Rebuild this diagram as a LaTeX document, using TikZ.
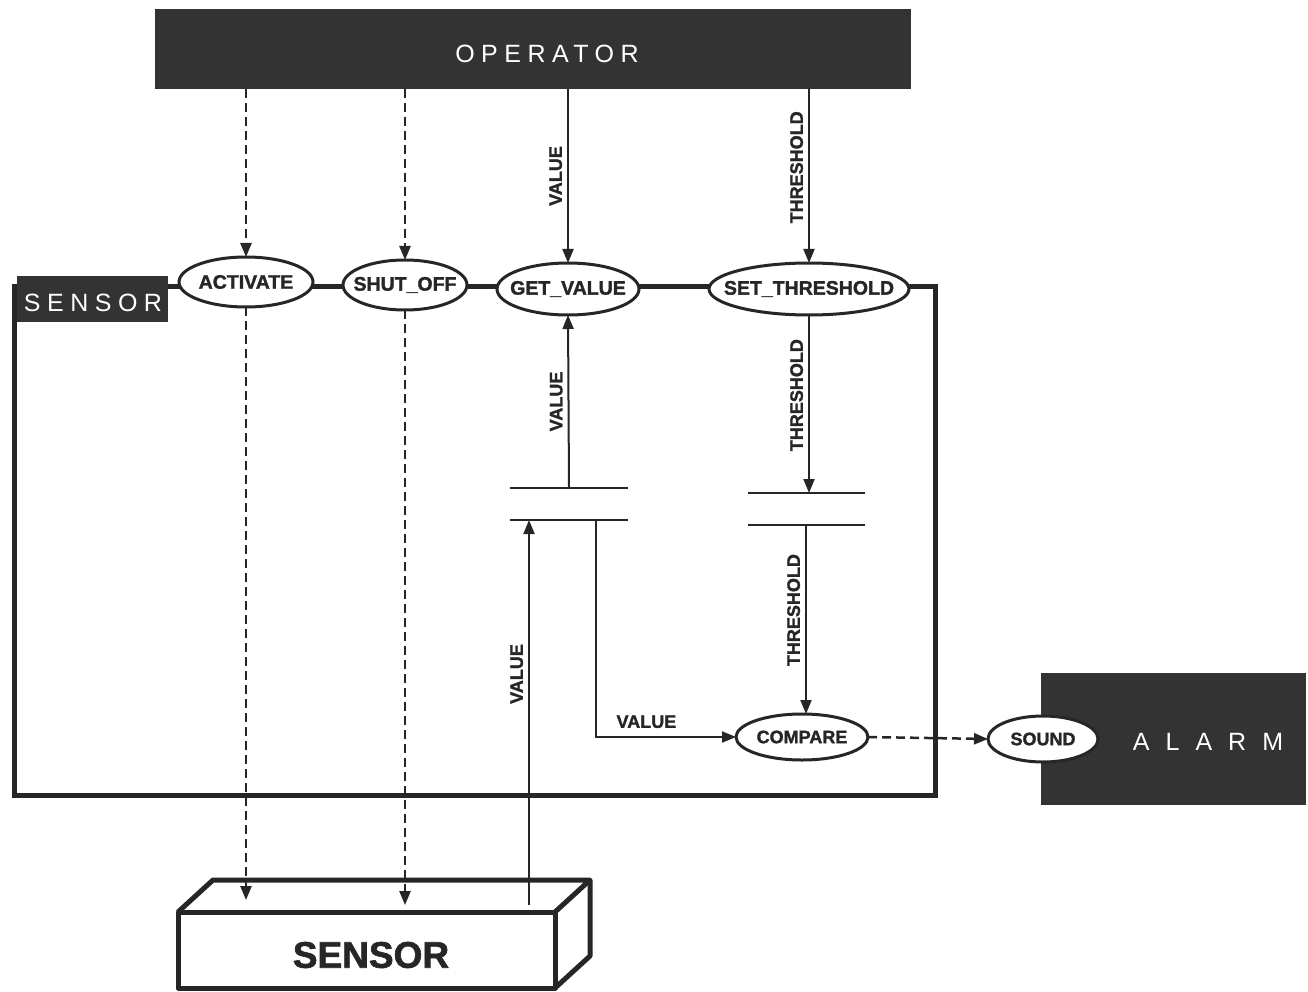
\documentclass[tikz,border=0pt]{standalone}
\usepackage{fontspec}
\setmainfont{Liberation Sans}
\newfontfamily\hvwide[LetterSpace=26]{Liberation Sans}
\newfontfamily\hvwider[LetterSpace=64]{Liberation Sans}
\newfontfamily\hvheavy[FakeBold=1.6]{Liberation Sans Bold}
\usetikzlibrary{arrows.meta,shapes.geometric}
\definecolor{ink}{HTML}{262626}
\definecolor{panel}{HTML}{333333}
\begin{document}
\begin{tikzpicture}[x=1pt,y=-1pt,
  every node/.style={inner sep=0pt, outer sep=0pt},
  flow/.style={draw=ink, line width=2pt, -{Triangle[length=14pt,width=11pt]}},
  dflow/.style={flow, line width=2.5pt, dash pattern=on 9pt off 5pt},
  proc/.style={ellipse, draw=ink, fill=white, line width=3pt},
  plbl/.style={font=\fontsize{19.5}{19.5}\hvheavy, text=ink},
  slbl/.style={font=\fontsize{18}{18}\hvheavy, text=ink},
  dlbl/.style={font=\fontsize{18}{18}\hvheavy, text=ink, rotate=90, anchor=south, inner sep=6pt},
  hlbl/.style={font=\fontsize{18}{18}\hvheavy, text=ink},
  storeline/.style={draw=ink, line width=2.5pt},
  frame/.style={draw=ink, line width=5pt},
  panelbox/.style={fill=panel},
  paneltext/.style={text=white, font=\fontsize{25}{25}\selectfont},
]
\useasboundingbox (0,0) rectangle (1308,992);

% operator terminal
\node[panelbox, minimum width=756, minimum height=80] (op) at (533,49) {};
\node[paneltext] (optxt) at (547,54) {\hvwide OPERATOR};

% sensor module frame and its title
\draw[frame] (14,286) rectangle (935,795);
\node[panelbox, anchor=north west, minimum width=151, minimum height=46] (sbox) at (17,276) {};
\node[paneltext] (stxt) at (93,303) {\hvwide SENSOR};

% alarm terminal
\node[panelbox, minimum width=265, minimum height=132] (alarm) at (1173.5,739) {};
\node[paneltext] (atxt) at (1208,742) {\hvwider ALARM};

% operations of the module
\node[proc, minimum width=134, minimum height=50, label={[plbl]center:ACTIVATE}] (act) at (246,282) {};
\node[proc, minimum width=124, minimum height=50, label={[plbl]center:SHUT\_OFF}] (shut) at (405,285) {};
\node[proc, minimum width=142, minimum height=52, label={[plbl]center:GET\_VALUE}] (getv) at (568,289) {};
\node[proc, minimum width=200, minimum height=52, label={[plbl]center:SET\_THRESHOLD}] (sett) at (809,289) {};
\node[proc, minimum width=132, minimum height=46, label={[slbl]center:COMPARE}] (cmp) at (802,737) {};
\node[proc, minimum width=110, minimum height=46, label={[slbl]center:SOUND}] (snd) at (1043,739) {};

% data stores
\node[minimum width=118, minimum height=32] (st1) at (569,504) {};
\draw[storeline] (st1.north west) -- (st1.north east);
\draw[storeline] (st1.south west) -- (st1.south east);
\node[minimum width=117, minimum height=32] (st2) at (806,509) {};
\draw[storeline] (st2.north west) -- (st2.north east);
\draw[storeline] (st2.south west) -- (st2.south east);

% physical sensor device
\node[draw=ink, fill=white, line width=5pt, line join=round, minimum width=377, minimum height=76] (dev) at (366.5,950) {};
\node[font=\fontsize{37}{37}\hvheavy, text=ink] (devtxt) at (371,955) {SENSOR};
\draw[draw=ink, line width=5pt, line join=round]
  (dev.north west) -- ++(35,-32) -- ++(377,0) -- (dev.north east);
\draw[draw=ink, line width=5pt, line join=round]
  (dev.north east) ++(35,-32) -- ++(0,76) -- (dev.south east);
\coordinate (devtop) at (0,900);
\coordinate (devtopb) at (0,905);
\coordinate (devin) at (529,905);

% flows
\draw[dflow] (act.north |- op.south) -- (act.north);
\draw[dflow] (shut.north |- op.south) -- (shut.north);
\draw[flow] (getv.north |- op.south) -- (getv.north) node[dlbl, pos=.5] {VALUE};
\draw[flow] (sett.north |- op.south) -- (sett.north) node[dlbl, pos=.45] {THRESHOLD};
\draw[flow] (st1.north) -- (getv.south) node[dlbl, pos=.5] {VALUE};
\draw[flow] (sett.south) -- (sett.south |- st2.north) node[dlbl, pos=.45] {THRESHOLD};
\draw[flow] (st2.south) -- (st2.south |- cmp.north) node[dlbl, pos=.45] {THRESHOLD};
\draw[flow] ([xshift=27pt]st1.south) |- (cmp.west) node[hlbl, pos=.68, above=9pt] {VALUE};
\draw[flow] (devin) -- (devin |- st1.south) node[dlbl, pos=.6] {VALUE};
\draw[dflow] (act.south) -- (act.south |- devtop);
\draw[dflow] (shut.south) -- (shut.south |- devtopb);
\draw[dflow] (cmp.east) -- (snd.west);
\end{tikzpicture}
\end{document}
